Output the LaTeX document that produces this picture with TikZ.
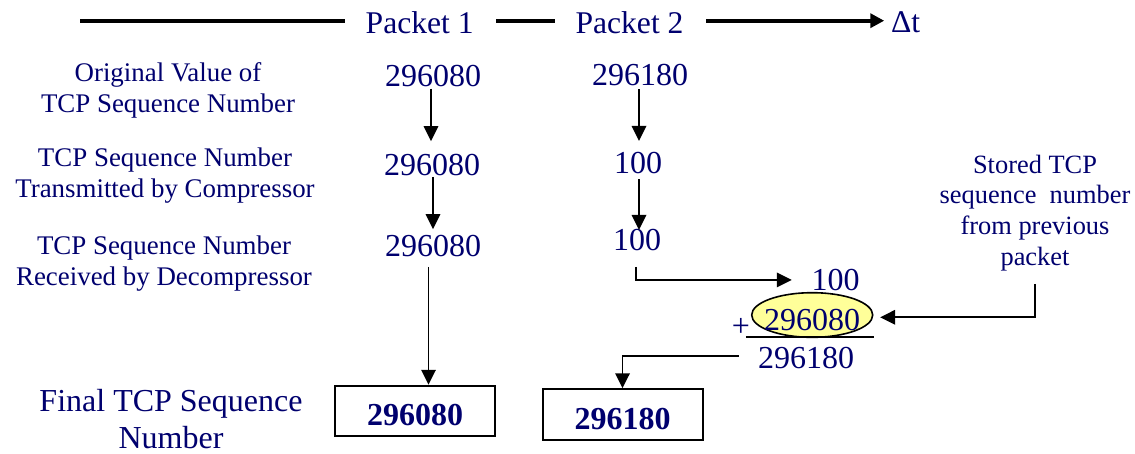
\documentclass[tikz,border=0pt]{standalone}
\usepackage{fontspec}
\setmainfont{Liberation Serif}
\usetikzlibrary{arrows.meta,calc,shapes.geometric}
\definecolor{ink}{RGB}{0,0,110}
\definecolor{hilite}{RGB}{255,255,153}

\tikzset{
  lbl/.style={text=ink, font=\fontsize{26.9}{31.5}\selectfont, align=center, anchor=base, inner sep=0pt},
  num/.style={text=ink, font=\fontsize{32}{38}\selectfont, anchor=base, inner sep=0pt, text height=21.6pt, text depth=0pt},
  hdr/.style={num, font=\fontsize{31.6}{38}\selectfont, text height=22pt},
  arr/.style={draw=black, line width=1.8pt, -{Triangle[length=15pt,width=14.5pt]}},
  bar/.style={draw=black, line width=4pt},
  result/.style={draw=black, line width=2pt, minimum width=160pt, minimum height=50.5pt, inner sep=0pt,
    text=ink, font=\fontsize{32}{38}\selectfont\bfseries, text height=29.4pt, text depth=0pt},
  stored/.style={draw=black, line width=1.6pt, fill=hilite, ellipse, minimum width=121pt, minimum height=44.6pt,
    inner sep=0pt, text=ink, font=\fontsize{32}{38}\selectfont, text height=30pt, text depth=0pt},
}

\begin{document}
\begin{tikzpicture}[x=1pt, y=-1pt]
\useasboundingbox (0,0) rectangle (1135,453);

% time axis
\coordinate (hstart) at (80,20.7);
\node[hdr] (pk1) at (419.7,33.3) {Packet 1};
\node[hdr] (pk2) at (629.5,33.3) {Packet 2};
\node[hdr] (dt)  at (905.7,32.7) {Δt};
\draw[bar] (hstart) -- ($(hstart -| pk1.west)+(-20.7,0)$);
\draw[bar] ($(hstart -| pk1.east)+(22.3,0)$) -- ($(hstart -| pk2.west)+(-20,0)$);
\draw[bar, -{Triangle[length=14pt,width=14pt]}] ($(hstart -| pk2.east)+(22.7,0)$) -- ($(hstart -| dt.west)+(-6.7,0)$);

% row labels (base = baseline of the last line)
\node[lbl] (l1) at (168,112.7) {Original Value of\\TCP Sequence Number};
\node[lbl] (l2) at (165,197.7) {TCP Sequence Number\\Transmitted by Compressor};
\node[lbl] (l3) at (164,285.7) {TCP Sequence Number\\Received by Decompressor};
\node[lbl, font=\fontsize{32}{36.6}\selectfont] (lfin) at (171,448.3) {Final TCP Sequence\\Number};

% packet 1 column
\node[num] (p1a) at (433,86.7) {296080};
\node[num] (p1b) at (432,175) {296080};
\node[num] (p1c) at (433,256.7) {296080};
\draw[arr] ($(p1a.south)+(-2,1.6)$) -- ($(p1b.north)+(-1,-12)$);
\draw[arr] ($(p1b.south)+(1,1.7)$) -- ($(p1c.north)+(0,-5.7)$);

% packet 2 column
\node[num] (p2a) at (640,85.7) {296180};
\node[num] (p2b) at (638,173.3) {100};
\node[num] (p2c) at (637,250) {100};
\draw[arr] ($(p2a.south)+(-1,3.3)$) -- ($(p2b.north)+(1,-10.6)$);
\draw[arr] ($(p2b.south)+(1,5.7)$) -- ($(p2c.north)+(2,1.7)$);

% final values
\node[result] (box1) at (415,411) {296080};
\node[result] (box2) at (622.5,414.5) {296180};
\draw[arr] ($(p1c.south)+(-4.5,10)$) -- ($(p1c.south |- box1.north)+(-4.5,0)$);

% decompressor addition
\node[num] (s100) at (835.5,290.7) {100};
\node[stored] (ell) at (812.2,315) {\makebox[0pt]{296080}};
\node[text=ink, font=\fontsize{32}{38}\selectfont, inner sep=0pt] (plus) at (741,327.5) {+};
\draw[line width=2pt] ($(ell.west |- ell.south)+(-5,-1.3)$) -- ($(ell.east |- ell.south)+(0,-1.3)$);
\node[num] (res) at (806,368.3) {296180};

\node[lbl, font=\fontsize{26.4}{30.6}\selectfont] (prev) at (1035,265) {Stored TCP\\sequence~~number\\from previous\\packet};

\draw[arr] ($(p2c.south)+(-1.3,16.7)$) |- ($(s100.west)+(-19.5,0)$);
\draw[arr] ($(prev.south)+(0,13)$) |- ($(ell.east)+(6.6,2.3)$);
\draw[arr] ($(res.west)+(-19,-1.8)$) -| (box2.north);
\end{tikzpicture}
\end{document}
